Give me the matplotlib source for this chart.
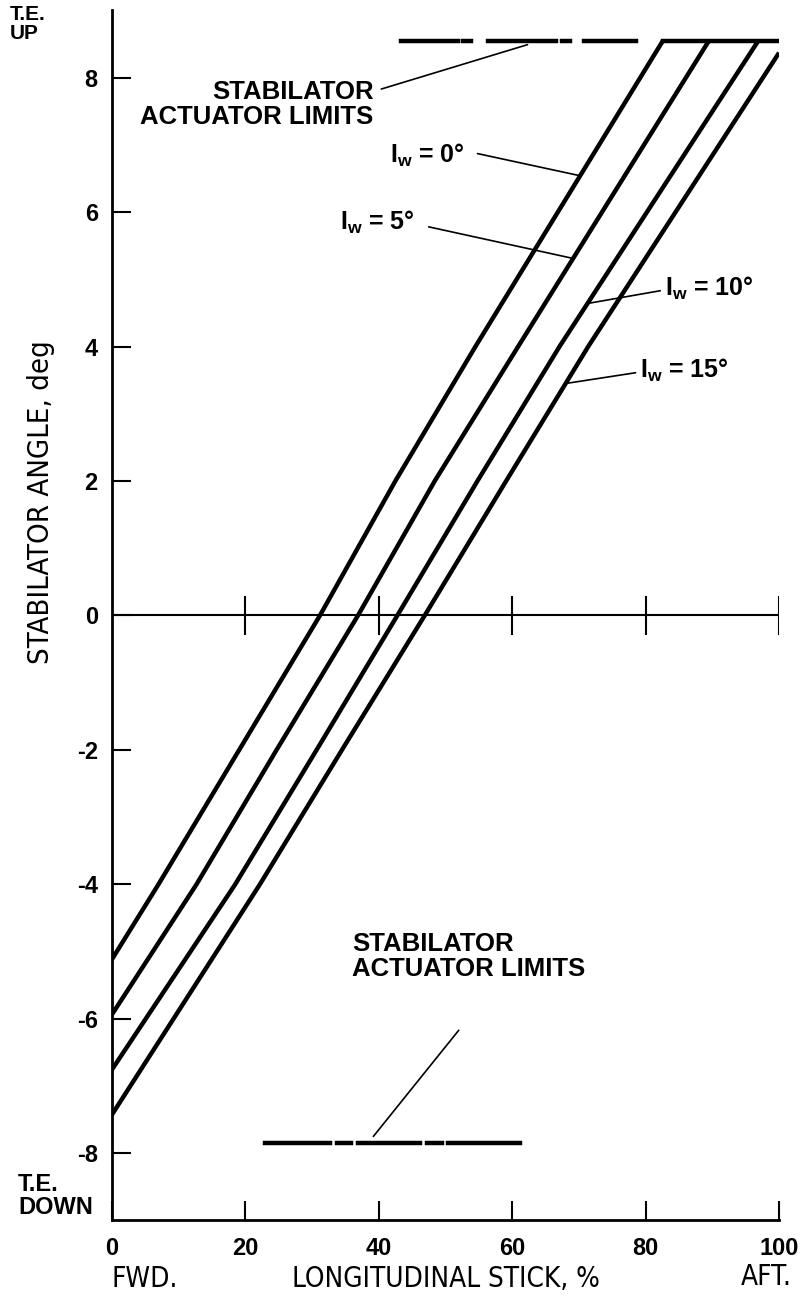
import numpy as np
import matplotlib.pyplot as plt

plt.rcParams['font.family'] = ['Liberation Sans', 'DejaVu Sans']
plt.rcParams['mathtext.fontset'] = 'custom'
plt.rcParams['mathtext.rm'] = 'Liberation Sans'
plt.rcParams['mathtext.bf'] = 'Liberation Sans:bold'

# stabilator angle vs longitudinal stick, one curve per wing incidence
iw_values = ['0', '5', '10', '15']
stick_pts = [
    [0, 7.0, 19.1, 31.2, 42.5, 54.5, 82.6],
    [0, 12.7, 24.7, 36.9, 48.4, 60.9, 89.5],
    [0, 18.5, 30.7, 42.8, 54.8, 67.1, 96.9],
    [0, 22.2, 34.5, 46.9, 59.1, 71.4, 100.0],
]
angle_pts = [
    [-5.12, -4, -2, 0, 2, 4, 8.55],
    [-5.94, -4, -2, 0, 2, 4, 8.55],
    [-6.76, -4, -2, 0, 2, 4, 8.55],
    [-7.43, -4, -2, 0, 2, 4, 8.37],
]

# actuator limits (drawn as broken lines)
upper_limit = 8.55
upper_segments = [(43.4, 51.9), (52.7, 53.9), (56.4, 66.6), (67.5, 68.6),
                  (70.7, 78.6), (82.6, 100.0)]
lower_limit = -7.85
lower_segments = [(22.9, 32.7), (33.7, 35.8), (36.9, 46.2), (47.2, 49.5),
                  (50.4, 61.2)]

x_ticks = [0, 20, 40, 60, 80, 100]
y_ticks = [-8, -6, -4, -2, 0, 2, 4, 6, 8]

fig = plt.figure(figsize=(8.04, 12.97), dpi=100)
ax = fig.add_axes([0.139, 0.059, 0.830, 0.933])
ax.set_xlim(0, 100)
ax.set_ylim(-9, 9)

for s in ['top', 'right']:
    ax.spines[s].set_visible(False)
for s in ['left', 'bottom']:
    ax.spines[s].set_linewidth(2)

ax.set_xticks(x_ticks)
ax.set_yticks(y_ticks)
ax.set_xticklabels([str(v) for v in x_ticks], fontsize=17, fontweight='bold')
ax.set_yticklabels([str(v) for v in y_ticks], fontsize=17, fontweight='bold')
ax.tick_params(axis='both', direction='in', length=14, width=1.5)
ax.tick_params(axis='x', pad=12)
ax.tick_params(axis='y', pad=10)

# zero line with crossing ticks
ax.axhline(0, color='black', lw=1.5)
for xv in x_ticks[1:]:
    ax.plot([xv, xv], [-0.28, 0.28], color='black', lw=1.5)

for xs, ys in zip(stick_pts, angle_pts):
    ax.plot(xs, ys, color='black', lw=3.2, solid_capstyle='butt')

for a, b in upper_segments:
    ax.plot([a, b], [upper_limit, upper_limit], color='black', lw=3.2)
for a, b in lower_segments:
    ax.plot([a, b], [lower_limit, lower_limit], color='black', lw=3.2)

def on_curve(i, angle):
    return np.interp(angle, angle_pts[i], stick_pts[i]), angle

def leader(p0, p1):
    ax.annotate('', xy=p1, xytext=p0,
                arrowprops=dict(arrowstyle='-', lw=1.2, color='black',
                                shrinkA=0, shrinkB=0))

lab = dict(fontsize=18.5, fontweight='bold', color='black')

ax.text(39.2, 7.6, 'STABILATOR\nACTUATOR LIMITS', ha='right', va='center',
        linespacing=1.05, **lab)
leader((40.4, 7.83), (62.3, upper_limit - 0.06))

ax.text(36.0, -5.08, 'STABILATOR\nACTUATOR LIMITS', ha='left', va='center',
        linespacing=1.05, **lab)
leader((52.0, -6.17), (39.2, lower_limit + 0.1))

iw_text = [(41.7, 6.85), (34.2, 5.85), (82.9, 4.86), (79.2, 3.64)]
iw_lead = [((54.8, 6.87), 6.54), ((47.5, 5.78), 5.31),
           ((82.2, 4.83), 4.64), ((78.5, 3.61), 3.45)]
for i, iw in enumerate(iw_values):
    tx, ty = iw_text[i]
    ax.text(tx, ty, r'I$_\mathbf{w}$ = ' + iw + '°', ha='left',
            va='center', fontsize=18, fontweight='bold')
    (sx, sy), ang = iw_lead[i]
    leader((sx, sy), on_curve(i, ang))

cond = dict(family='DejaVu Sans', stretch='condensed', fontsize=20)
fig.text(41 / 804, 1 - 502 / 1297, 'STABILATOR ANGLE, deg', rotation=90,
         ha='center', va='center', fontsize=21, family='DejaVu Sans',
         stretch='condensed')
fig.text(292 / 804, 1 - 1279 / 1297, 'LONGITUDINAL STICK, %', ha='left',
         va='center', **cond)
fig.text(112 / 804, 1 - 1279 / 1297, 'FWD.', ha='left', va='center', **cond)
fig.text(792 / 804, 1 - 1277 / 1297, 'AFT.', ha='right', va='center', **cond)

fig.text(10 / 804, 1 - 24 / 1297, 'T.E.\nUP', ha='left', va='center',
         fontsize=15, fontweight='bold', linespacing=1.0)
fig.text(18 / 804, 1 - 1196 / 1297, 'T.E.\nDOWN', ha='left', va='center',
         fontsize=17, fontweight='bold', linespacing=1.0)

fig.savefig('out.png', dpi=100)
